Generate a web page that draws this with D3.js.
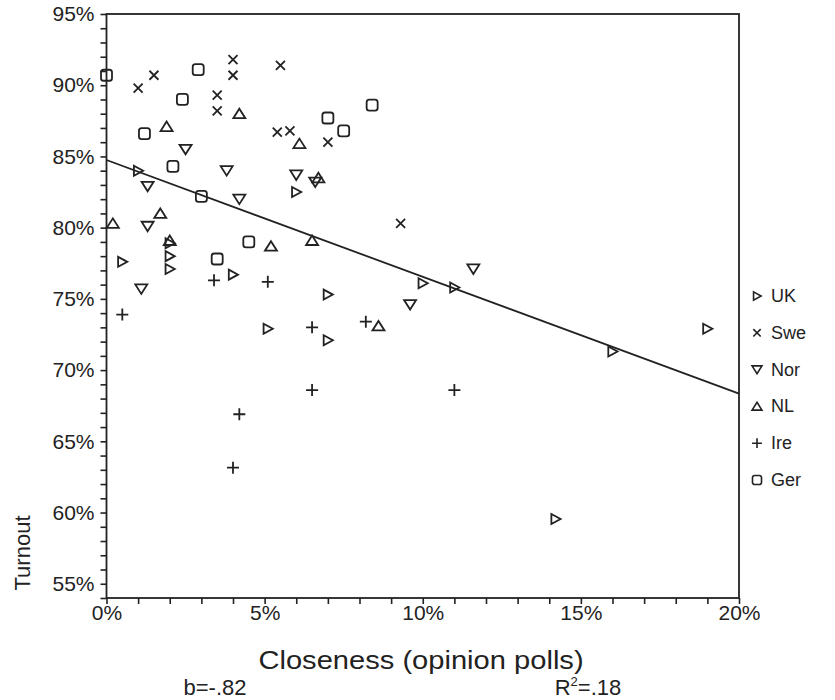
<!DOCTYPE html>
<html>
<head>
<meta charset="utf-8">
<script src="https://cdn.jsdelivr.net/npm/d3@7"></script>
<style>
  body { margin: 0; background: #fff; }
  text { font-family: "Liberation Sans", Arial, sans-serif; fill: #222; }
</style>
</head>
<body>
<svg id="chart" width="835" height="700"></svg>
<script>
// Closeness of the race (poll margin, %) and turnout (%) per election
const ukClose  = [1.0, 0.5, 2.0, 2.0, 2.0, 4.0, 5.1, 6.0, 7.0, 7.0, 10.0, 11.0, 14.2, 16.0, 19.0];
const ukTurn   = [84.0, 77.6, 78.9, 78.0, 77.1, 76.7, 72.9, 82.5, 75.3, 72.1, 76.1, 75.8, 59.55, 71.3, 72.9];

const sweClose = [1.0, 1.5, 3.5, 3.5, 4.0, 4.0, 5.5, 5.4, 5.8, 7.0, 9.3];
const sweTurn  = [89.8, 90.7, 89.3, 88.2, 91.8, 90.7, 91.4, 86.7, 86.8, 86.0, 80.3];

const norClose = [2.5, 1.3, 3.8, 4.2, 6.0, 1.3, 1.1, 6.6, 11.6, 9.6];
const norTurn  = [85.5, 82.9, 84.0, 82.0, 83.7, 80.1, 75.7, 83.2, 77.1, 74.6];

const nlClose  = [4.2, 1.9, 6.1, 0.2, 1.7, 2.0, 5.2, 6.5, 6.7, 8.6];
const nlTurn   = [88.0, 87.1, 85.9, 80.3, 81.0, 79.1, 78.7, 79.1, 83.5, 73.1];

const ireClose = [0.5, 3.4, 5.1, 6.5, 6.5, 4.2, 8.2, 11.0, 4.0];
const ireTurn  = [73.9, 76.3, 76.2, 73.0, 68.6, 66.9, 73.4, 68.6, 63.15];

const gerClose = [0.0, 2.9, 2.4, 1.2, 8.4, 7.0, 7.5, 2.1, 3.0, 4.5, 3.5];
const gerTurn  = [90.7, 91.1, 89.0, 86.6, 88.6, 87.7, 86.8, 84.3, 82.2, 79.0, 77.8];

const seriesNames = ["UK", "Swe", "Nor", "NL", "Ire", "Ger"];
const seriesShapes = ["triRight", "cross", "triDown", "triUp", "plus", "square"];

// Fitted regression line: turnout = intercept + slope * closeness
const slope = -0.82;
const intercept = 84.75;
const slopeLabel = "b=-.82";
const r2Value = ".18";

const xTickValues = d3.range(0, 21, 1);
const yTickValues = d3.range(54, 96, 1);

const seriesData = [
  [ukClose, ukTurn], [sweClose, sweTurn], [norClose, norTurn],
  [nlClose, nlTurn], [ireClose, ireTurn], [gerClose, gerTurn]
];

const svg = d3.select("#chart");
const ink = "#222";

const x = d3.scaleLinear().domain([0, 20]).range([106.5, 739]);
const y = d3.scaleLinear().domain([54, 95]).range([598, 14]);

// Symbol outlines, centred on the origin; k scales the glyph
function shapePath(type, k) {
  const p = d3.path();
  if (type === "triRight") {
    p.moveTo(-4.2 * k, -5 * k); p.lineTo(5 * k, 0); p.lineTo(-4.2 * k, 5 * k); p.closePath();
  } else if (type === "triDown") {
    p.moveTo(-6 * k, -4.5 * k); p.lineTo(6 * k, -4.5 * k); p.lineTo(0, 5 * k); p.closePath();
  } else if (type === "triUp") {
    p.moveTo(-6 * k, 4.5 * k); p.lineTo(6 * k, 4.5 * k); p.lineTo(0, -5 * k); p.closePath();
  } else if (type === "cross") {
    p.moveTo(-4.5 * k, -4.5 * k); p.lineTo(4.5 * k, 4.5 * k);
    p.moveTo(-4.5 * k, 4.5 * k); p.lineTo(4.5 * k, -4.5 * k);
  } else if (type === "plus") {
    p.moveTo(-6 * k, 0); p.lineTo(6 * k, 0);
    p.moveTo(0, -6 * k); p.lineTo(0, 6 * k);
  } else if (type === "square") {
    const s = 5.5 * k, r = 2.6 * k;
    p.moveTo(-s + r, -s); p.lineTo(s - r, -s); p.arcTo(s, -s, s, -s + r, r);
    p.lineTo(s, s - r); p.arcTo(s, s, s - r, s, r);
    p.lineTo(-s + r, s); p.arcTo(-s, s, -s, s - r, r);
    p.lineTo(-s, -s + r); p.arcTo(-s, -s, -s + r, -s, r);
    p.closePath();
  }
  return p.toString();
}

// Axes with a tick every percentage point, labels every five
const yAxis = d3.axisLeft(y)
  .tickValues(yTickValues)
  .tickFormat(d => d % 5 === 0 ? d + "%" : "")
  .tickSize(6).tickSizeOuter(0).tickPadding(6);
const xAxis = d3.axisBottom(x)
  .tickValues(xTickValues)
  .tickFormat(d => d % 5 === 0 ? d + "%" : "")
  .tickSize(6).tickSizeOuter(0).tickPadding(1);

const gy = svg.append("g").attr("transform", `translate(${x(0)},0)`).call(yAxis);
const gx = svg.append("g").attr("transform", `translate(0,${y(54)})`).call(xAxis);
[gx, gy].forEach(g => {
  g.select(".domain").remove();
  g.selectAll(".tick line").attr("stroke", ink).attr("stroke-width", 1.6);
  g.selectAll(".tick text").attr("font-size", 21).attr("fill", ink)
    .style("font-family", "'Liberation Sans', Arial, sans-serif");
});

// Plot frame
svg.append("rect")
  .attr("x", x(0)).attr("y", y(95))
  .attr("width", x(20) - x(0)).attr("height", y(54) - y(95))
  .attr("fill", "none").attr("stroke", ink).attr("stroke-width", 1.8);

// Regression line
svg.append("line")
  .attr("x1", x(0)).attr("y1", y(intercept))
  .attr("x2", x(20)).attr("y2", y(intercept + slope * 20))
  .attr("stroke", ink).attr("stroke-width", 1.8);

// Points
seriesData.forEach(([xs, ys], i) => {
  svg.append("g").selectAll("path")
    .data(xs.map((v, j) => [v, ys[j]]))
    .join("path")
    .attr("transform", d => `translate(${x(d[0])},${y(d[1])})`)
    .attr("d", shapePath(seriesShapes[i], 1))
    .attr("fill", "none").attr("stroke", ink).attr("stroke-width", 1.8);
});

// Legend
const legend = svg.append("g").attr("transform", "translate(757,296)");
seriesNames.forEach((name, i) => {
  const row = legend.append("g").attr("transform", `translate(0,${i * 36.8})`);
  row.append("path").attr("d", shapePath(seriesShapes[i], 0.82))
    .attr("fill", "none").attr("stroke", ink).attr("stroke-width", 1.6);
  row.append("text").attr("x", 14).attr("y", 6).attr("font-size", 18).text(name);
});

// Axis titles
svg.append("text")
  .attr("transform", "translate(30,553) rotate(-90)")
  .attr("text-anchor", "middle").attr("font-size", 22).text("Turnout");
svg.append("text")
  .attr("transform", "translate(421,669) scale(1.12,1)")
  .attr("text-anchor", "middle").attr("font-size", 26).text("Closeness (opinion polls)");

// Fit statistics
svg.append("text")
  .attr("x", 215).attr("y", 695)
  .attr("text-anchor", "middle").attr("font-size", 22).text(slopeLabel);
const r2 = svg.append("text")
  .attr("x", 588).attr("y", 695)
  .attr("text-anchor", "middle").attr("font-size", 22);
r2.append("tspan").text("R");
r2.append("tspan").attr("dy", -9).attr("font-size", 13).text("2");
r2.append("tspan").attr("dy", 9).text("=" + r2Value);
</script>
</body>
</html>
